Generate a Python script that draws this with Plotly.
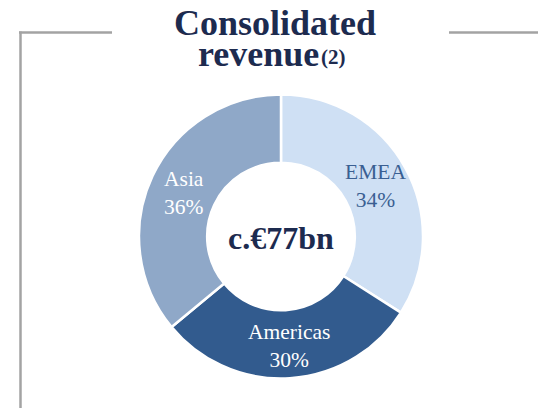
import plotly.graph_objects as go

W, H = 538, 408

regions = ["EMEA", "Americas", "Asia"]
shares = [34, 30, 36]
colors = ["#cfe0f4", "#325b8e", "#8fa8c8"]
label_colors = ["#3a5f92", "#ffffff", "#ffffff"]
title_line1 = "Consolidated"
title_line2 = "revenue"
title_note = "(2)"
center_text = "c.€77bn"

NAVY = "#1d2b4f"
SERIF = "Liberation Serif, Times New Roman, serif"

def px(x):
    return x / W

def py(y):
    return 1 - y / H

cx, cy, r = 281, 236.5, 142

fig = go.Figure(go.Pie(
    labels=regions,
    values=shares,
    sort=False,
    direction="clockwise",
    rotation=0,
    hole=0.52,
    marker=dict(colors=colors, line=dict(color="#ffffff", width=2.5)),
    textinfo="none",
    hoverinfo="label+percent",
    showlegend=False,
    domain=dict(x=[px(cx - r), px(cx + r)], y=[py(cy + r), py(cy - r)]),
))

label_pos = {"EMEA": (375, 186), "Americas": (289, 346), "Asia": (184, 193)}
annotations = []
for reg, val, lc in zip(regions, shares, label_colors):
    x, y = label_pos[reg]
    annotations.append(dict(
        x=px(x), y=py(y), xref="paper", yref="paper",
        xanchor="center", yanchor="middle", showarrow=False,
        text=f"{reg}<br>{val}%",
        font=dict(family=SERIF, size=21.5, color=lc),
    ))

annotations += [
    dict(x=px(281), y=py(238), xref="paper", yref="paper", xanchor="center", yanchor="middle",
         showarrow=False, text=f"<b>{center_text}</b>",
         font=dict(family=SERIF, size=32, color=NAVY)),
    dict(x=px(275), y=py(23), xref="paper", yref="paper", xanchor="center", yanchor="middle",
         showarrow=False, text=f"<b>{title_line1}</b>",
         font=dict(family=SERIF, size=36, color=NAVY)),
    dict(x=px(321), y=py(54), xref="paper", yref="paper", xanchor="right", yanchor="middle",
         showarrow=False, text=f"<b>{title_line2}</b>",
         font=dict(family=SERIF, size=36, color=NAVY)),
    dict(x=px(319), y=py(57), xref="paper", yref="paper", xanchor="left", yanchor="middle",
         showarrow=False, text=f"<b>{title_note}</b>",
         font=dict(family=SERIF, size=21, color=NAVY)),
]

GRAY = "#a3a3a3"
shapes = [
    dict(type="line", xref="paper", yref="paper", x0=px(19), x1=px(112), y0=py(32.5), y1=py(32.5),
         line=dict(color=GRAY, width=2.5)),
    dict(type="line", xref="paper", yref="paper", x0=px(20.5), x1=px(20.5), y0=py(31.5), y1=py(H + 2),
         line=dict(color=GRAY, width=2.5)),
    dict(type="line", xref="paper", yref="paper", x0=px(449), x1=px(540), y0=py(32.5), y1=py(32.5),
         line=dict(color=GRAY, width=2.5)),
]

fig.update_layout(
    width=W, height=H,
    margin=dict(l=0, r=0, t=0, b=0),
    paper_bgcolor="#ffffff", plot_bgcolor="#ffffff",
    annotations=annotations,
    shapes=shapes,
)

fig.write_html(
    "out.html",
    config={"displayModeBar": False},
    post_script="document.body.style.margin='0px';document.body.style.overflow='hidden';",
)
